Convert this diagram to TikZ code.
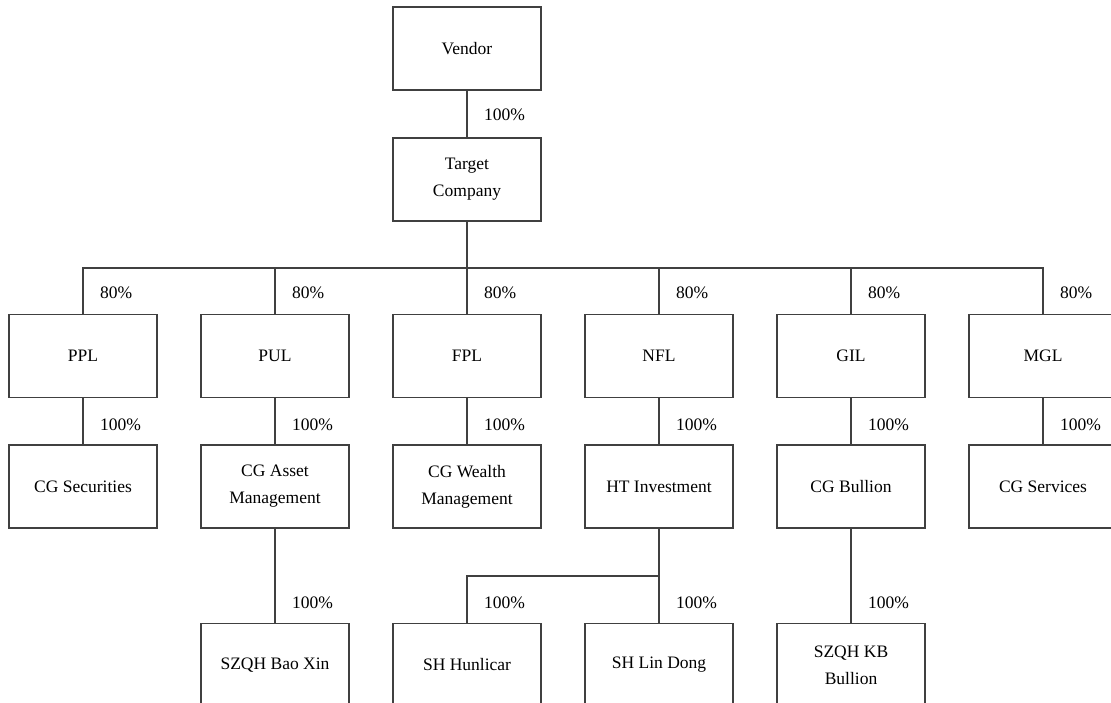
\documentclass[tikz,border=0pt]{standalone}
\usepackage{fontspec}
\setmainfont{Liberation Serif}
\begin{document}
\begin{tikzpicture}[x=1pt,y=-1pt,
  box/.style={draw=black!75,line width=1.1pt,minimum width=148pt,minimum height=83pt,inner sep=0pt,align=center,
    font=\fontsize{17.5}{27}\selectfont},
  pct/.style={anchor=west,inner sep=0pt,font=\fontsize{17.5}{21}\selectfont},
  ln/.style={draw=black!75,line width=1.1pt}]
\useasboundingbox (0,0) rectangle (1111,703);
\node[box] (V) at (467,48.5) {Vendor};
\node[box] (T) at (467,179.5) {Target\\Company};
\foreach \n/\x/\t in {PPL/83/PPL,PUL/275/PUL,FPL/467/FPL,NFL/659/NFL,GIL/851/GIL,MGL/1043/MGL}{
  \node[box] (\n) at (\x,356) {\t};
  \node[pct] (p\n) at (\x+17,293) {80\%};
  \node[pct] (q\n) at (\x+17,425) {100\%};
}
\node[box] (CGS) at (83,486.5) {CG Securities};
\node[box] (CGA) at (275,486.5) {CG Asset\\Management};
\node[box] (CGW) at (467,486.5) {CG Wealth\\Management};
\node[box] (HT) at (659,486.5) {HT Investment};
\node[box] (CGB) at (851,486.5) {CG Bullion};
\node[box] (CGSv) at (1043,486.5) {CG Services};
\node[box] (BX) at (275,665) {SZQH Bao Xin};
\node[box] (HU) at (467,665) {SH Hunlicar};
\node[box] (LD) at (659,665) {SH Lin Dong};
\node[box] (KB) at (851,665) {SZQH KB\\Bullion};
\node[pct] (lv) at (484,115) {100\%};
\node[pct] (lbx) at (292,603) {100\%};
\node[pct] (lhu) at (484,603) {100\%};
\node[pct] (lld) at (676,603) {100\%};
\node[pct] (lkb) at (868,603) {100\%};
\coordinate (bus) at (0,268);
\coordinate (split) at (0,576);
\draw[ln] (V) -- (T);
\draw[ln] (T.south) -- (T.south |- bus);
\draw[ln] (PPL.north) -- (PPL.north |- bus) -- (MGL.north |- bus) -- (MGL.north);
\foreach \n in {PUL,FPL,NFL,GIL}{\draw[ln] (\n.north) -- (\n.north |- bus);}
\draw[ln] (PPL) -- (CGS);
\draw[ln] (PUL) -- (CGA);
\draw[ln] (FPL) -- (CGW);
\draw[ln] (NFL) -- (HT);
\draw[ln] (GIL) -- (CGB);
\draw[ln] (MGL) -- (CGSv);
\draw[ln] (CGA) -- (BX);
\draw[ln] (HT) -- (LD);
\draw[ln] (HU.north) -- (HU.north |- split) -- (HT.south |- split);
\draw[ln] (CGB) -- (KB);
\end{tikzpicture}
\end{document}
